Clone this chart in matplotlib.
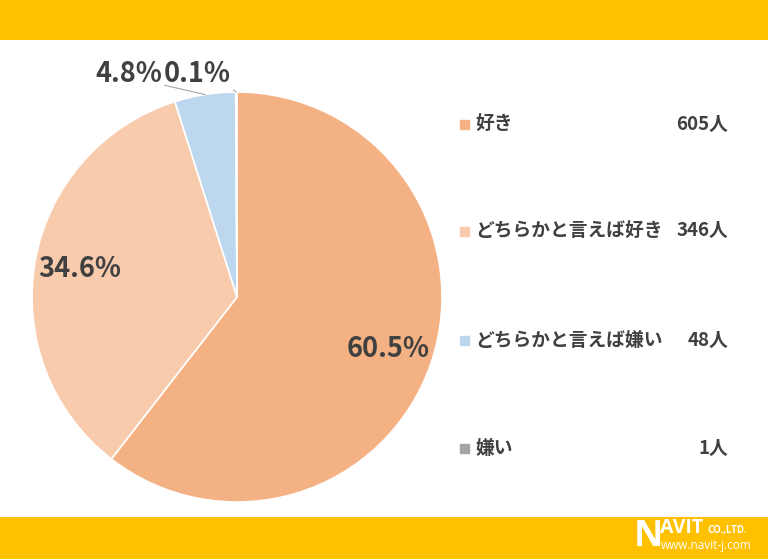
import matplotlib
matplotlib.use("Agg")
import matplotlib.pyplot as plt
import numpy as np

categories = ["好き", "どちらかと言えば好き", "どちらかと言えば嫌い", "嫌い"]
counts = [605, 346, 48, 1]
percents = ["60.5%", "34.6%", "4.8%", "0.1%"]
count_labels = ["605人", "346人", "48人", "1人"]
colors = ["#F4B183", "#F8CBAD", "#BDD7EE", "#A5A5A5"]

TXT = "#404040"
YEL = "#FFC000"
W, H = 768, 559

fig = plt.figure(figsize=(W / 100, H / 100), dpi=100)
fig.patch.set_facecolor("white")

def fx(px):
    return px / W

def fy(py):
    return 1 - py / H

# top / bottom bands
band_top = fig.add_axes([0, fy(40), 1, 40 / H])
band_top.set_facecolor(YEL); band_top.set_xticks([]); band_top.set_yticks([])
for s in band_top.spines.values(): s.set_visible(False)
band_bot = fig.add_axes([0, 0, 1, (H - 517) / H])
band_bot.set_facecolor(YEL); band_bot.set_xticks([]); band_bot.set_yticks([])
for s in band_bot.spines.values(): s.set_visible(False)

logo_font = ["Open Sans", "DejaVu Sans"]
fig.text(fx(634), fy(537), "N", color="white", fontsize=26, fontweight="bold",
         family=logo_font, va="center", ha="left")
fig.text(fx(660), fy(528), "AVIT", color="white", fontsize=14, fontweight="bold",
         family=logo_font, va="center", ha="left")
fig.text(fx(707), fy(530), "CO.,LTD.", color="white", fontsize=7, fontweight="bold",
         family=logo_font, va="center", ha="left")
fig.text(fx(661), fy(545), "www.navit-j.com", color="white", fontsize=8.5,
         family=logo_font, va="center", ha="left")

# pie
cx, cy, r = 237, 297, 205
ax = fig.add_axes([fx(cx - r), fy(cy + r), 2 * r / W, 2 * r / H])
wedges, _ = ax.pie(counts, colors=colors, startangle=90, counterclock=False,
                   radius=1, wedgeprops=dict(edgecolor="white", linewidth=1.2))
ax.set_xlim(-1, 1); ax.set_ylim(-1, 1)
ax.set_aspect("equal")
ax.axis("off")

font_pct = ["Noto Sans CJK JP", "DejaVu Sans"]
for i, w in enumerate(wedges):
    mid = np.deg2rad((w.theta1 + w.theta2) / 2)
    if i < 2:
        ax.text(0.78 * np.cos(mid), 0.78 * np.sin(mid), percents[i], ha="center",
                va="center", fontsize=19.5, fontweight="bold", color=TXT, family=font_pct)
    else:
        tx = -0.53 if i == 2 else -0.195
        ax.annotate(percents[i], xy=(np.cos(mid), np.sin(mid)), xytext=(tx, 1.09),
                    ha="center", va="center", fontsize=19.5, fontweight="bold",
                    color=TXT, family=font_pct, annotation_clip=False,
                    arrowprops=dict(arrowstyle="-", color="#A6A6A6", lw=0.8,
                                    shrinkA=0, shrinkB=0,
                                    relpos=(0.97, 0.12) if i == 2 else (0.92, 0.1)))

# legend
rows_y = [124, 231, 340, 448]
font_leg = ["Noto Sans CJK JP", "DejaVu Sans"]
for i, cat in enumerate(categories):
    y = rows_y[i]
    fig.patches.append(plt.Rectangle((fx(460), fy(y + 5)), 9 / W, 9 / H,
                                     transform=fig.transFigure, color=colors[i]))
    fig.text(fx(475), fy(y), cat, fontsize=13.5, fontweight="bold", color=TXT,
             family=font_leg, va="center", ha="left")
    fig.text(fx(728), fy(y), count_labels[i], fontsize=13.5, fontweight="bold", color=TXT,
             family=font_leg, va="center", ha="right")

fig.savefig("out.png", dpi=100)
